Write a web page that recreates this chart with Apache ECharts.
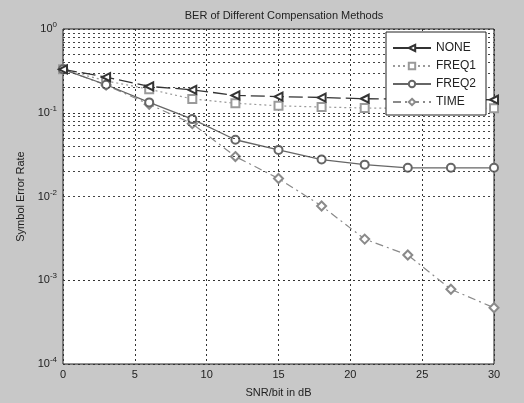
<!DOCTYPE html>
<html>
<head>
<meta charset="utf-8">
<script src="https://cdn.jsdelivr.net/npm/echarts@6/dist/echarts.min.js"></script>
<style>
  html, body { margin: 0; padding: 0; background: #c8c8c8; }
  #chart { width: 524px; height: 403px; }
</style>
</head>
<body>
<div id="chart"></div>
<script>
// SNR values (dB)
const snr = [0, 3, 6, 9, 12, 15, 18, 21, 24, 27, 30]

// symbol error rate per method
const noneSer = [0.33, 0.266, 0.206, 0.188, 0.161, 0.156, 0.152, 0.147, 0.145, 0.144, 0.143]
const freq1Ser = [0.33, 0.24, 0.191, 0.146, 0.130, 0.121, 0.117, 0.114, 0.113, 0.113, 0.113]
const freq2Ser = [0.33, 0.216, 0.133, 0.084, 0.0476, 0.036, 0.0276, 0.024, 0.022, 0.022, 0.022]
const timeSer = [0.33, 0.214, 0.126, 0.074, 0.030, 0.0164, 0.0077, 0.0031, 0.0020, 0.00078, 0.00047]

const decades = [-4, -3, -2, -1, 0]

// minor grid lines 2..9 x 10^k
const minorGrid = []
decades.slice(0, -1).forEach(k => {
  for (let m = 2; m <= 9; m++) minorGrid.push(m * Math.pow(10, k))
})

const pair = (ys) => snr.map((x, i) => [x, ys[i]])

const chart = echarts.init(document.getElementById('chart'))

const fontFamily = 'Liberation Sans, Arial, sans-serif'

chart.setOption({
  backgroundColor: '#c8c8c8',
  animation: false,
  textStyle: { fontFamily },
  title: {
    text: 'BER of Different Compensation Methods',
    left: 279,
    textAlign: 'center',
    top: 5,
    textStyle: { fontSize: 11, fontWeight: 'normal', color: '#222', fontFamily }
  },
  grid: {
    left: 63, right: 30, top: 29, bottom: 38,
    show: true,
    backgroundColor: '#fff',
    borderColor: '#222',
    borderWidth: 1
  },
  legend: {
    orient: 'vertical',
    left: 386,
    top: 32,
    z: 100,
    padding: [10, 10, 7, 6],
    itemWidth: 38,
    itemHeight: 8,
    itemGap: 6,
    backgroundColor: '#fff',
    borderColor: '#222',
    borderWidth: 1,
    borderRadius: 0,
    textStyle: { fontSize: 12, color: '#222', fontFamily },
    data: [
      { name: 'NONE', lineStyle: { type: 'solid' } },
      { name: 'FREQ1' },
      { name: 'FREQ2' },
      { name: 'TIME' }
    ]
  },
  xAxis: {
    type: 'value',
    min: 0, max: 30, interval: 5,
    name: 'SNR/bit in dB',
    nameLocation: 'middle',
    nameGap: 23,
    nameTextStyle: { fontSize: 11, color: '#222' },
    axisLine: { show: false },
    axisTick: { show: false },
    axisLabel: { fontSize: 11, color: '#222', margin: 5 },
    splitLine: { show: true, lineStyle: { type: [2, 3], color: '#333', width: 1 } }
  },
  yAxis: {
    type: 'log',
    logBase: 10,
    min: 1e-4, max: 1,
    name: 'Symbol Error Rate',
    nameLocation: 'middle',
    nameGap: 36,
    nameTextStyle: { fontSize: 11, color: '#222' },
    axisLine: { show: false },
    axisTick: { show: false },
    axisLabel: {
      margin: 6,
      formatter: v => '10{s|' + Math.round(Math.log10(v)) + '}',
      rich: {
        s: { fontSize: 8, verticalAlign: 'top', padding: [0, 0, 8, 0], color: '#222' }
      },
      fontSize: 11,
      color: '#222'
    },
    splitLine: { show: true, lineStyle: { type: [2, 3], color: '#333', width: 1 } }
  },
  series: [
    {
      name: 'grid',
      type: 'line',
      data: [],
      silent: true,
      markLine: {
        silent: true,
        symbol: 'none',
        label: { show: false },
        lineStyle: { type: [2, 3], color: '#444', width: 1 },
        data: minorGrid.map(v => ({ yAxis: v }))
      }
    },
    {
      name: 'NONE',
      type: 'line',
      data: pair(noneSer),
      symbol: 'emptyTriangle',
      symbolRotate: 90,
      symbolSize: 8,
      color: '#333',
      lineStyle: { color: '#333', width: 1.3, type: [14, 5] },
      itemStyle: { color: '#333', borderWidth: 1.3 },
      z: 5
    },
    {
      name: 'FREQ1',
      type: 'line',
      data: pair(freq1Ser),
      symbol: 'emptyRect',
      symbolSize: 8,
      color: '#9a9a9a',
      lineStyle: { color: '#9a9a9a', width: 1.2, type: [2, 3] },
      itemStyle: { color: '#9a9a9a', borderWidth: 1.2 },
      z: 4
    },
    {
      name: 'FREQ2',
      type: 'line',
      data: pair(freq2Ser),
      symbol: 'emptyCircle',
      symbolSize: 8,
      color: '#666',
      lineStyle: { color: '#666', width: 1.3, type: 'solid' },
      itemStyle: { color: '#666', borderWidth: 1.3 },
      z: 4
    },
    {
      name: 'TIME',
      type: 'line',
      data: pair(timeSer),
      symbol: 'emptyDiamond',
      symbolSize: 9,
      color: '#8a8a8a',
      lineStyle: { color: '#8a8a8a', width: 1.2, type: [8, 4, 2, 4] },
      itemStyle: { color: '#8a8a8a', borderWidth: 1.2 },
      z: 3
    }
  ]
})
</script>
</body>
</html>
